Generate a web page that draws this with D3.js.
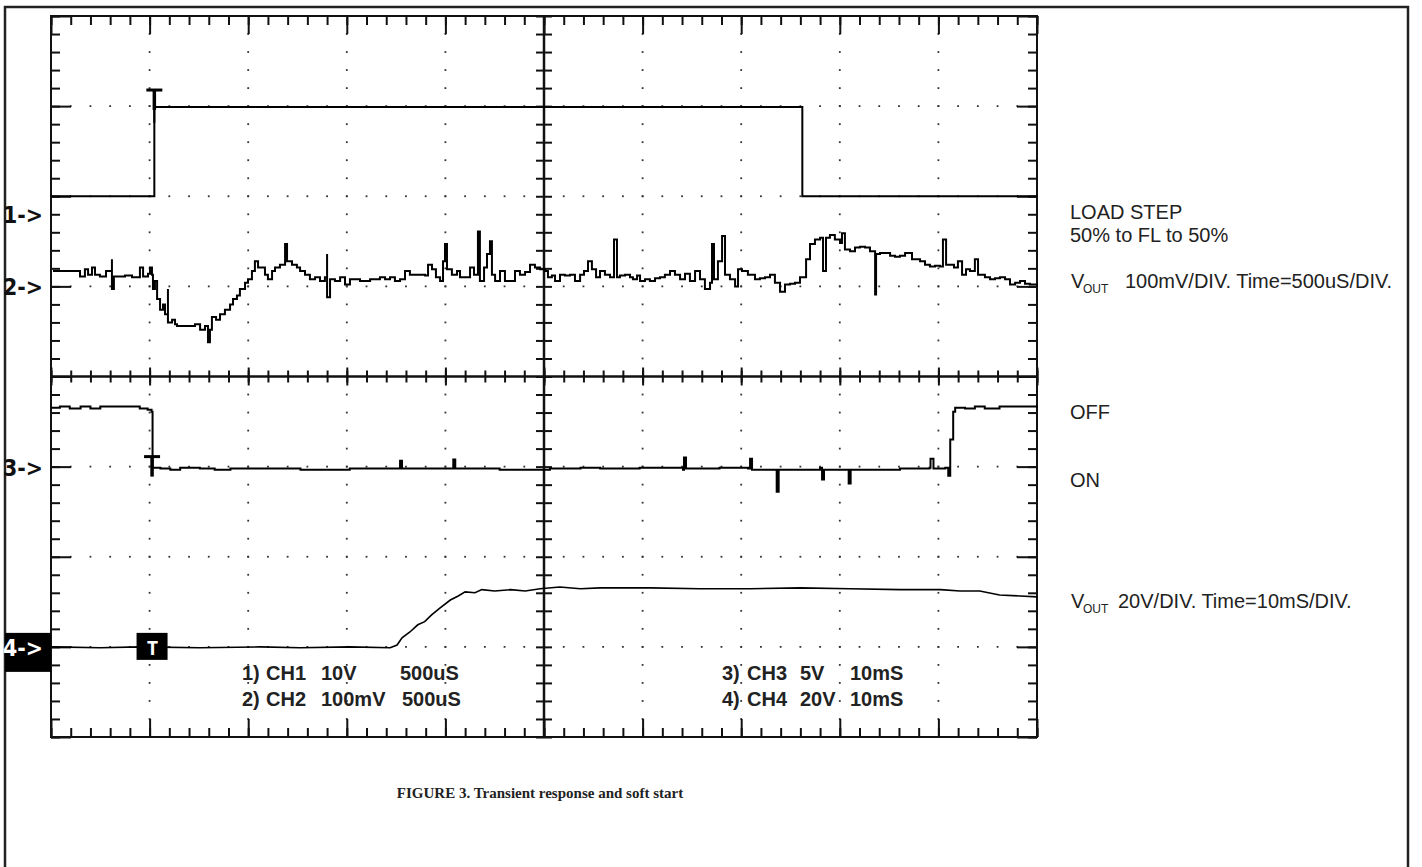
<!DOCTYPE html>
<html><head><meta charset="utf-8">
<script src="https://cdn.jsdelivr.net/npm/d3@7"></script>
<style>body{margin:0;background:#fff}svg{display:block}</style>
</head><body>
<svg id="c" width="1422" height="867"></svg>
<script>
// ---------------- DATA ----------------
// CH1: load step (10 V/div, 500 us/div)
const ch1Time = [0, 524, 524, 1263, 3810, 3810, 5000];      // us
const ch1Volts = [2.0, 2.0, 11.9, 11.9, 11.9, 2.0, 2.0];    // V
// CH2: Vout ripple (100 mV/div, 500 us/div)
const ch2Time = [10,137,147,172,188,208,223,248,279,309,309,309,319,375,411,451,451,467,492,502,512,517,527,538,553,568,578,593,593,614,629,639,705,730,756,781,796,806,816,837,857,882,908,923,943,958,984,999,1019,1034,1050,1070,1085,1100,1121,1136,1161,1187,1187,1197,1222,1247,1263,1288,1313,1339,1364,1389,1400,1400,1415,1440,1466,1491,1516,1567,1618,1668,1694,1719,1744,1770,1795,1820,1871,1897,1912,1932,1952,1973,1988,1998,2008,2033,2059,2074,2099,2125,2145,2165,2175,2196,2211,2226,2236,2252,2277,2302,2328,2353,2378,2404,2429,2454,2480,2505,2520,2540,2556,2581,2606,2632,2657,2683,2703,2723,2743,2764,2784,2809,2835,2855,2870,2885,2911,2936,2951,2972,2987,3012,3037,3063,3088,3113,3139,3164,3190,3215,3240,3266,3291,3316,3342,3352,3362,3382,3403,3418,3443,3469,3484,3504,3534,3570,3595,3621,3646,3671,3697,3722,3747,3773,3798,3813,3829,3849,3874,3900,3915,3915,3930,3950,3975,4001,4011,4026,4052,4077,4102,4128,4153,4179,4184,4204,4229,4255,4280,4305,4331,4366,4407,4432,4457,4483,4508,4523,4539,4559,4579,4599,4620,4640,4660,4685,4701,4736,4762,4787,4812,4838,4863,4889,4914,4939,4964,5000];
const ch2mV = [17,17,11,19,13,21,13,11,17,17,30,-3,11,12,10,12,21,11,14,21,13,-3,6,-14,-26,-20,-31,-3,-40,-37,-42,-44,-44,-42,-48,-44,-62,-48,-34,-37,-31,-26,-20,-14,-10,-3,4,8,17,28,21,21,13,8,17,21,24,28,47,28,24,21,17,13,8,10,6,10,36,-12,8,6,10,2,8,6,8,10,8,10,6,8,17,13,13,12,24,19,10,6,28,47,19,13,17,10,10,21,13,61,6,21,36,50,13,6,17,6,6,17,13,16,24,21,19,17,10,12,6,13,12,13,6,13,17,28,19,10,17,13,10,52,10,12,13,10,8,12,6,8,6,9,10,13,17,13,8,14,6,17,8,-3,4,47,8,28,56,13,8,0,19,17,13,8,9,10,13,4,-6,2,3,4,10,10,30,47,52,54,32,17,54,57,52,48,59,41,39,43,44,43,39,-9,36,37,37,34,33,34,37,30,28,24,22,23,22,52,24,24,21,28,13,19,17,30,13,10,8,9,10,8,2,4,6,3,2,0];
// CH3: enable (5 V/div, 10 ms/div)
const ch3Time = [0,0.9,1.9,3.0,4.0,5.0,8.5,9.0,9.8,10.2,10.3,11.1,12.1,13.1,15.1,16.6,18.2,20.2,25.3,30.3,35.2,35.4,35.6,40.5,40.8,41.0,45.5,50.6,53.7,55.7,59.7,64.1,64.2,64.4,67.8,70.7,70.9,71.1,73.5,73.6,73.8,76.5,78.0,78.2,78.4,80.8,80.9,81.1,86.1,89.1,89.2,89.5,90.7,91.0,91.2,91.5,91.7,92.7,93.7,94.7,96.2,100];
const ch3Volts = [3.27,3.33,3.22,3.33,3.22,3.33,3.33,3.22,3.16,3.05,-0.06,-0.11,-0.17,-0.06,-0.11,-0.17,-0.11,-0.11,-0.17,-0.11,-0.11,0.33,-0.11,-0.11,0.39,-0.11,-0.17,-0.11,-0.06,-0.11,-0.06,-0.17,0.5,-0.11,-0.06,-0.11,0.44,-0.17,-0.17,-1.39,-0.17,-0.17,-0.06,-0.72,-0.17,-0.17,-0.94,-0.17,-0.11,-0.06,0.44,-0.11,-0.06,-0.5,1.5,3.05,3.27,3.22,3.33,3.22,3.33,3.27];
// CH4: Vout soft start (20 V/div, 10 ms/div)
const ch4Time = [0,5.0,9.0,15.1,21.2,25.3,30.3,34.4,35.1,35.6,36.4,37.2,37.9,38.6,39.5,40.5,41.3,42.0,43.0,43.7,45.0,46.6,48.1,49.6,51.6,53.7,55.7,60.8,65.8,70.9,76.0,81.0,86.1,90.2,92.2,94.2,96.2,98.3,100];
const ch4Volts = [0,-0.2,0,-0.2,0,-0.2,0,-0.2,0.4,2.0,3.3,4.9,5.6,7.1,8.7,10.4,11.3,12.2,12.0,12.7,12.4,12.7,12.4,12.9,13.3,12.9,13.1,13.1,12.9,12.9,13.1,12.9,12.7,12.7,12.4,12.4,11.5,11.3,11.1];

const channelNames = ["1->", "2->", "3->", "4->"];
const channelOffsets = [1.8, 1, -1, -3];         // divisions from screen centre
const channelScales = [10, 100, 5, 20];          // units per division
const timeSpans = [5000, 5000, 100, 100];        // full screen time (us / ms)
const triggerTimes = [524, null, 10.25, 10.3];
const settingsLeft = [["1)", "CH1", "10V", "500uS"], ["2)", "CH2", "100mV", "500uS"]];
const settingsRight = [["3)", "CH3", "5V", "10mS"], ["4)", "CH4", "20V", "10mS"]];
const notes = ["LOAD STEP", "50% to FL to 50%", "OFF", "ON"];
const voutNotes = ["100mV/DIV. Time=500uS/DIV.", "20V/DIV. Time=10mS/DIV."];
const caption = "FIGURE 3. Transient response and soft start";

// ---------------- LAYOUT ----------------
const svg = d3.select("#c");
const P = {x0: 51, x1: 1037, y0: 16, y1: 737};
const xDiv = d3.scaleLinear().domain([0, 10]).range([P.x0, P.x1]);
const yDiv = d3.scaleLinear().domain([-4, 4]).range([P.y1, P.y0]);
const minorX = d3.range(0, 50.5).map(i => i * 0.2);
const minorY = d3.range(0, 40.5).map(i => -4 + i * 0.2);
const majorX = d3.range(0, 11);
const majorY = d3.range(-4, 5);

// outer frame
svg.append("rect").attr("x", 5).attr("y", 7).attr("width", 1403).attr("height", 900)
  .attr("fill", "none").attr("stroke", "#222").attr("stroke-width", 2.5);

// grid dots
const dots = [];
majorX.filter(v => v > 0 && v < 10 && v !== 5).forEach(gx => minorY.forEach(gy => dots.push([gx, gy])));
majorY.filter(v => v > -4 && v < 4 && v !== 0).forEach(gy => minorX.forEach(gx => dots.push([gx, gy])));
svg.append("g").selectAll("rect").data(dots).join("rect")
  .attr("x", d => xDiv(d[0]) - 0.9).attr("y", d => yDiv(d[1]) - 0.9)
  .attr("width", 1.8).attr("height", 1.8).attr("fill", "#333");

function styleAxis(g, w) {
  g.select(".domain").remove();
  g.selectAll(".tick line").attr("stroke", "#111").attr("stroke-width", w || 2);
  g.selectAll(".tick text").remove();
}
function edge(axisFn, scale, vals, size, tx, ty) {
  svg.append("g").attr("transform", `translate(${tx},${ty})`)
    .call(axisFn(scale).tickValues(vals).tickSize(size).tickFormat(""))
    .call(g => styleAxis(g));
}
// edge ticks
edge(d3.axisBottom, xDiv, minorX, 9, 0, P.y0);
edge(d3.axisBottom, xDiv, majorX, 18, 0, P.y0);
edge(d3.axisTop, xDiv, minorX, 9, 0, P.y1);
edge(d3.axisTop, xDiv, majorX, 18, 0, P.y1);
edge(d3.axisRight, yDiv, minorY, 9, P.x0, 0);
edge(d3.axisRight, yDiv, majorY, 20, P.x0, 0);
edge(d3.axisLeft, yDiv, minorY, 9, P.x1, 0);
edge(d3.axisLeft, yDiv, majorY, 20, P.x1, 0);
// centre axes
const cy = yDiv(0), cx = xDiv(5);
svg.append("line").attr("x1", P.x0).attr("x2", P.x1).attr("y1", cy).attr("y2", cy)
  .attr("stroke", "#111").attr("stroke-width", 2.5);
svg.append("line").attr("x1", cx).attr("x2", cx).attr("y1", P.y0).attr("y2", P.y1)
  .attr("stroke", "#111").attr("stroke-width", 2.5);
edge(d3.axisTop, xDiv, minorX, 6, 0, cy);
edge(d3.axisBottom, xDiv, minorX, 6, 0, cy);
edge(d3.axisTop, xDiv, majorX, 9, 0, cy);
edge(d3.axisBottom, xDiv, majorX, 9, 0, cy);
edge(d3.axisLeft, yDiv, minorY, 8, cx, 0);
edge(d3.axisRight, yDiv, minorY, 8, cx, 0);

// plot box
svg.append("rect").attr("x", P.x0).attr("y", P.y0).attr("width", P.x1 - P.x0).attr("height", P.y1 - P.y0)
  .attr("fill", "none").attr("stroke", "#111").attr("stroke-width", 2);

// traces
const series = [
  {t: ch1Time, v: ch1Volts, curve: d3.curveLinear},
  {t: ch2Time, v: ch2mV, curve: d3.curveStepAfter},
  {t: ch3Time, v: ch3Volts, curve: d3.curveStepAfter},
  {t: ch4Time, v: ch4Volts, curve: d3.curveLinear}
];
const xs = [], ys = [];
series.forEach((s, i) => {
  const x = d3.scaleLinear().domain([0, timeSpans[i]]).range([P.x0, P.x1]);
  const y = v => yDiv(channelOffsets[i] + v / channelScales[i]);
  xs.push(x); ys.push(y);
  const pts = s.t.map((t, k) => [t, s.v[k]]);
  svg.append("path").datum(pts)
    .attr("d", d3.line().x(d => x(d[0])).y(d => y(d[1])).curve(s.curve))
    .attr("fill", "none").attr("stroke", "#000").attr("stroke-width", i === 3 ? 1.6 : 2)
    .attr("stroke-linejoin", "miter");
});

// trigger markers
function tMark(x, yTop, len, tail) {
  svg.append("line").attr("x1", x - 8).attr("x2", x + 8).attr("y1", yTop).attr("y2", yTop)
    .attr("stroke", "#000").attr("stroke-width", 3);
  svg.append("line").attr("x1", x).attr("x2", x).attr("y1", yTop).attr("y2", yTop + len)
    .attr("stroke", "#000").attr("stroke-width", 3.5);
  svg.append("line").attr("x1", x).attr("x2", x).attr("y1", yTop + len).attr("y2", yTop + len + tail)
    .attr("stroke", "#000").attr("stroke-width", 2);
}
tMark(xs[0](triggerTimes[0]), ys[0](11.9) - 17, 20, 13);
tMark(xs[2](triggerTimes[2]), ys[2](0) - 10, 20, 0);
const t4x = xs[3](triggerTimes[3]);
svg.append("rect").attr("x", t4x - 16).attr("y", ys[3](0) - 14).attr("width", 31).attr("height", 27).attr("fill", "#000");
svg.append("text").attr("x", t4x).attr("y", ys[3](0) + 8).attr("text-anchor", "middle")
  .attr("font-family", "DejaVu Sans Mono").attr("font-weight", "bold").attr("font-size", 20)
  .attr("fill", "#fff").text("T");

// channel markers
channelNames.forEach((n, i) => {
  const yy = yDiv(channelOffsets[i]);
  if (i === 3) {
    svg.append("rect").attr("x", 5).attr("y", yy - 14).attr("width", 46).attr("height", 39).attr("fill", "#000");
  }
  svg.append("text").attr("x", 3).attr("y", yy + 9)
    .attr("font-family", "DejaVu Sans").attr("font-weight", "bold").attr("font-size", 23)
    .attr("textLength", 40).attr("lengthAdjust", "spacingAndGlyphs")
    .attr("fill", i === 3 ? "#fff" : "#111").text(n);
});

// settings text
const colsL = [242, 266, 321, 400], colsR = [722, 747, 800, 850];
function settings(rows, cols) {
  rows.forEach((r, j) => r.forEach((s, k) => {
    svg.append("text").attr("x", cols[k] + (j === 1 && k === 3 && cols === colsL ? 2 : 0)).attr("y", 680 + j * 26)
      .attr("font-family", "Liberation Sans, Arial, sans-serif").attr("font-weight", "bold")
      .attr("font-size", 20).attr("fill", "#222").text(s);
  }));
}
settings(settingsLeft, colsL);
settings(settingsRight, colsR);

// right notes
const noteFont = "Liberation Sans, Arial, sans-serif";
const noteY = [219, 242, 419, 487];
notes.forEach((n, i) => svg.append("text").attr("x", 1070).attr("y", noteY[i])
  .attr("font-family", noteFont).attr("font-size", 20).attr("fill", "#222").text(n));
const voutY = [288, 608], voutX = [1125, 1118];
voutNotes.forEach((n, i) => {
  svg.append("text").attr("x", 1071).attr("y", voutY[i]).attr("font-family", noteFont)
    .attr("font-size", 20).attr("fill", "#222").text("V");
  svg.append("text").attr("x", 1083).attr("y", voutY[i] + 5).attr("font-family", noteFont)
    .attr("font-size", 12).attr("fill", "#222").text("OUT");
  svg.append("text").attr("x", voutX[i]).attr("y", voutY[i]).attr("font-family", noteFont)
    .attr("font-size", 20).attr("fill", "#222").text(n);
});

// caption
svg.append("text").attr("x", 540).attr("y", 798).attr("text-anchor", "middle")
  .attr("font-family", "Liberation Serif, Times New Roman, serif").attr("font-weight", "bold")
  .attr("font-size", 15).attr("fill", "#222").text(caption);
</script>
</body></html>
